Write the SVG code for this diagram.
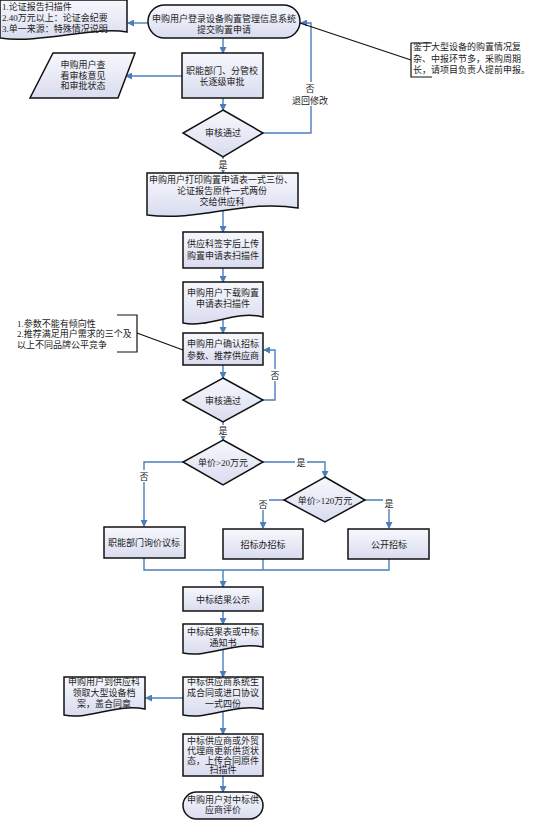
<svg xmlns="http://www.w3.org/2000/svg" width="537" height="822" viewBox="0 0 537 822">
<defs>
<linearGradient id="g" x1="0" y1="0" x2="0" y2="1">
<stop offset="0" stop-color="#f7f8fd"/>
<stop offset="1" stop-color="#d9dcef"/>
</linearGradient>
<marker id="arr" markerWidth="7" markerHeight="7" refX="6" refY="3.5" orient="auto" markerUnits="userSpaceOnUse">
<path d="M0,0 L7,3.5 L0,7 Z" fill="#4a7ebb"/>
</marker>
<style>
.s{fill:url(#g);stroke:#111;stroke-width:1.5}
.t{font-family:"Liberation Serif","Noto Sans CJK SC",serif;font-size:9px;fill:#222;text-anchor:middle}
.l{text-anchor:start}
.c{fill:none;stroke:#4a7ebb;stroke-width:1.4}
.a{marker-end:url(#arr)}
.k{fill:none;stroke:#111;stroke-width:1.2}
.bg{fill:#fff}
</style>
</defs>
<rect width="537" height="822" fill="#fff"/>

<g id="connectors">
<line class="c a" x1="148" y1="23" x2="128" y2="23"/>
<line class="c a" x1="223" y1="38" x2="223" y2="53"/>
<line class="c a" x1="182" y1="76" x2="126" y2="76"/>
<line class="c a" x1="223" y1="98" x2="223" y2="110"/>
<polyline class="c a" points="263,133 311,133 311,23 301,23"/>
<line class="c a" x1="223" y1="157" x2="223" y2="173"/>
<line class="c a" x1="223" y1="211" x2="223" y2="232"/>
<line class="c a" x1="223" y1="268" x2="223" y2="282"/>
<line class="c a" x1="223" y1="320" x2="223" y2="333"/>
<line class="c a" x1="223" y1="365" x2="223" y2="378"/>
<polyline class="c a" points="263,400 275,400 275,350 264,350"/>
<line class="c a" x1="223" y1="422" x2="223" y2="440"/>
<polyline class="c a" points="183,462 144,462 144,526"/>
<polyline class="c a" points="263,462 325,462 325,477"/>
<polyline class="c a" points="284,500 263,500 263,528"/>
<polyline class="c a" points="365,500 389,500 389,528"/>
<polyline class="c" points="144,558 144,570 389,570 389,559"/>
<line class="c" x1="263" y1="559" x2="263" y2="570"/>
<line class="c a" x1="223" y1="570" x2="223" y2="587"/>
<line class="c a" x1="223" y1="611" x2="223" y2="624"/>
<line class="c a" x1="223" y1="650" x2="223" y2="677"/>
<line class="c a" x1="183" y1="698" x2="146" y2="698"/>
<line class="c a" x1="223" y1="712" x2="223" y2="734"/>
<line class="c a" x1="223" y1="776" x2="223" y2="792"/>
<line class="k" x1="411" y1="60" x2="300" y2="23"/>
<line class="k" x1="137" y1="333" x2="183" y2="350"/>
<rect class="bg" x="303" y="82" width="16" height="24"/>
<rect class="bg" x="217" y="159" width="12" height="11"/>
<rect class="bg" x="269" y="369" width="12" height="12"/>
<rect class="bg" x="217" y="425" width="12" height="11"/>
<rect class="bg" x="138" y="470" width="12" height="12"/>
<rect class="bg" x="295" y="456" width="12" height="12"/>
<rect class="bg" x="257" y="499" width="12" height="11"/>
<rect class="bg" x="383" y="498" width="12" height="11"/>
<text class="t" x="310" y="91.5">否</text>
<text class="t" x="310" y="103.5">退回修改</text>
<text class="t" x="223" y="167.5">是</text>
<text class="t" x="275" y="378.5">否</text>
<text class="t" x="223" y="433.5">是</text>
<text class="t" x="144" y="479.5">否</text>
<text class="t" x="301" y="465.5">是</text>
<text class="t" x="263" y="507.5">否</text>
<text class="t" x="389" y="506.5">是</text>
</g>

<g id="note-top">
<path class="s" d="M0,0 H127 V32 C95,26 40,44 0,38 Z"/>
<text class="t l" x="2" y="10">1.论证报告扫描件</text>
<text class="t l" x="2" y="21">2.40万元以上：论证会纪要</text>
<text class="t l" x="2" y="32">3.单一来源：特殊情况说明</text>
</g>

<g id="start">
<rect class="s" x="148" y="5" width="152" height="33" rx="16.5" ry="16.5"/>
<text class="t" x="224" y="21.5">申购用户登录设备购置管理信息系统</text>
<text class="t" x="224" y="32.5">提交购置申请</text>
</g>

<g id="note-right">
<path class="k" d="M432,43 H411 V77 H432"/>
<text class="t l" x="413" y="50">鉴于大型设备的购置情况复</text>
<text class="t l" x="413" y="61.5">杂、中报环节多，采购周期</text>
<text class="t l" x="413" y="73">长，请项目负责人提前申报。</text>
</g>

<g id="approve">
<rect class="s" x="182" y="53" width="81" height="45"/>
<text class="t" x="222" y="74">职能部门、分管校</text>
<text class="t" x="222" y="85">长逐级审批</text>
</g>

<g id="view-status">
<polygon class="s" points="53,53 135,53 118,98 30,98"/>
<text class="t" x="83" y="68">申购用户查</text>
<text class="t" x="83" y="78.5">看审核意见</text>
<text class="t" x="83" y="89">和审批状态</text>
</g>

<g id="check1">
<polygon class="s" points="223,110 263,133 223,157 183,133"/>
<text class="t" x="223" y="136">审核通过</text>
</g>

<g id="print">
<path class="s" d="M147,173 H298 V208 C245,199 200,222 147,215 Z"/>
<text class="t" x="221" y="182.5">申购用户打印购置申请表一式三份、</text>
<text class="t" x="222" y="193.5">论证报告原件一式两份</text>
<text class="t" x="222" y="205">交给供应科</text>
</g>

<g id="upload">
<rect class="s" x="183" y="232" width="80" height="36"/>
<text class="t" x="223" y="246.5">供应科签字后上传</text>
<text class="t" x="223" y="258.5">购置申请表扫描件</text>
</g>

<g id="download">
<path class="s" d="M183,282 H263 V317 C235,310 210,328 183,323 Z"/>
<text class="t" x="223" y="295.5">申购用户下载购置</text>
<text class="t" x="223" y="306.5">申请表扫描件</text>
</g>

<g id="note-left">
<path class="k" d="M117,315 H137 V352 H117"/>
<text class="t l" x="17" y="326.5">1.参数不能有倾向性</text>
<text class="t l" x="17" y="337">2.推荐满足用户需求的三个及</text>
<text class="t l" x="17" y="347.5">以上不同品牌公平竞争</text>
</g>

<g id="confirm">
<rect class="s" x="183" y="333" width="80" height="32"/>
<text class="t" x="223" y="346.5">申购用户确认招标</text>
<text class="t" x="223" y="359">参数、推荐供应商</text>
</g>

<g id="check2">
<polygon class="s" points="223,378 263,400 223,422 183,400"/>
<text class="t" x="223" y="403.5">审核通过</text>
</g>

<g id="price20">
<polygon class="s" points="223,440 263,462 223,485 183,462"/>
<text class="t" x="223" y="465.5">单价&gt;20万元</text>
</g>

<g id="price120">
<polygon class="s" points="325,477 365,500 325,522 284,500"/>
<text class="t" x="325" y="503.5">单价&gt;120万元</text>
</g>

<g id="inquiry">
<rect class="s" x="104" y="527" width="81" height="31"/>
<text class="t" x="144" y="545.5">职能部门询价议标</text>
</g>

<g id="office-bid">
<rect class="s" x="223" y="529" width="80" height="30"/>
<text class="t" x="263" y="547.5">招标办招标</text>
</g>

<g id="public-bid">
<rect class="s" x="348" y="529" width="81" height="30"/>
<text class="t" x="389" y="547.5">公开招标</text>
</g>

<g id="announce">
<rect class="s" x="183" y="587" width="80" height="24"/>
<text class="t" x="223" y="602.5">中标结果公示</text>
</g>

<g id="notice">
<path class="s" d="M183,624 H263 V647 C235,641 210,658 183,653 Z"/>
<text class="t" x="223" y="634.5">中标结果表或中标</text>
<text class="t" x="223" y="645.5">通知书</text>
</g>

<g id="contract">
<path class="s" d="M183,677 H263 V709 C235,703 210,720 183,715 Z"/>
<text class="t" x="223" y="685">中标供应商系统生</text>
<text class="t" x="223" y="696">成合同或进口协议</text>
<text class="t" x="223" y="706.5">一式四份</text>
</g>

<g id="archive">
<path class="s" d="M64,677 H145 V709 C117,703 91,720 64,715 Z"/>
<text class="t" x="104" y="685">申购用户到供应科</text>
<text class="t" x="104" y="696">领取大型设备档</text>
<text class="t" x="104" y="706.5">案，盖合同章</text>
</g>

<g id="delivery">
<rect class="s" x="183" y="734" width="80" height="42"/>
<text class="t" x="223" y="743.5">中标供应商或外贸</text>
<text class="t" x="223" y="753.5">代理商更新供货状</text>
<text class="t" x="223" y="763.5">态，上传合同原件</text>
<text class="t" x="223" y="773">扫描件</text>
</g>

<g id="evaluate">
<rect class="s" x="183" y="792" width="80" height="27" rx="13.5" ry="13.5"/>
<text class="t" x="223" y="802.5">申购用户对中标供</text>
<text class="t" x="223" y="813">应商评价</text>
</g>
</svg>
